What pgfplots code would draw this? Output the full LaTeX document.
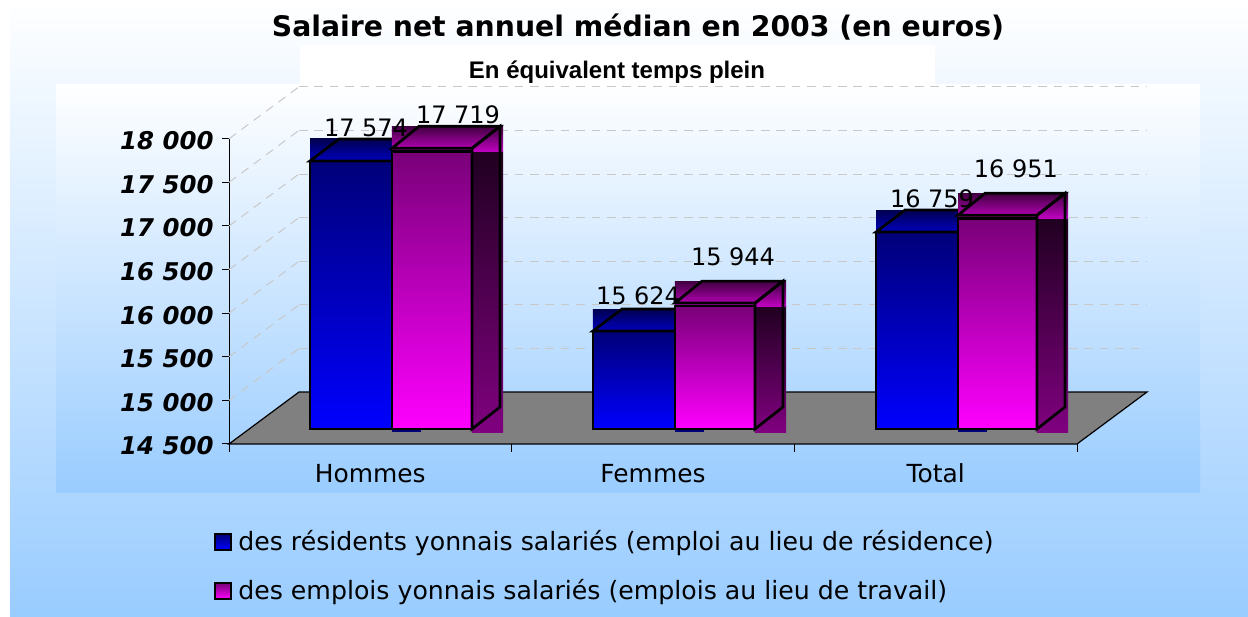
\documentclass[border=0pt]{standalone}
\usepackage{fontspec}
\usepackage{pgfplots}
\pgfplotsset{compat=1.18}
\setmainfont{DejaVu Sans}
\newfontfamily\arialf{Liberation Sans}
\definecolor{bgblue}{RGB}{153,204,255}
\definecolor{fl}{RGB}{128,128,128}
\definecolor{gridc}{RGB}{200,200,200}
\definecolor{bA}{RGB}{0,0,120}
\definecolor{bB}{RGB}{0,0,255}
\definecolor{bT}{RGB}{0,0,80}
\definecolor{bU}{RGB}{0,0,190}
\definecolor{mA}{RGB}{120,0,120}
\definecolor{mB}{RGB}{255,0,255}
\definecolor{mT}{RGB}{64,0,64}
\definecolor{mU}{RGB}{192,0,192}
\definecolor{mS}{RGB}{32,0,32}
\definecolor{mP}{RGB}{128,0,128}
\pgfplotsset{
  barbase/.style={forget plot, mark=none, yshift=15pt, line join=miter},
  gridl/.style={forget plot, mark=none, draw=gridc, line width=1pt, dash pattern=on 8.7pt off 6.7pt},
  vallabel/.style={forget plot, draw=none, mark=none, nodes near coords, point meta=y,
    every node near coord/.append style={anchor=center, yshift=#1, text=black, font=\fontsize{24}{28}\selectfont}},
}
\newcommand{\bluebar}[6]{%
  \addplot[barbase, draw=none, top color=bT, bottom color=bU] coordinates {(#1,#5)(#4,#5)(#4,#6)(#1,#6)} --cycle;
  \addplot[barbase, draw=none, fill=bA] coordinates {(#2,14465)(#4,14465)(#4,14500)(#2,14500)} --cycle;
  \addplot[barbase, draw=black, line width=2.7pt, top color=bA, bottom color=bB] coordinates {(#1,14500)(#2,14500)(#2,#5)(#1,#5)} --cycle;
  \addplot[barbase, draw=black, line width=2.7pt, fill=none] coordinates {(#1,#5)(#2,#5)(#4,#6)(#3,#6)} --cycle;
}
\newcommand{\magbar}[8]{%
  \addplot[barbase, draw=none, top color=mS, bottom color=mP] coordinates {(#2,14465)(#8,14465)(#8,#7)(#2,#7)} --cycle;
  \addplot[barbase, draw=none, top color=mT, bottom color=mU] coordinates {(#1,#7)(#8,#7)(#8,#6)(#1,#6)} --cycle;
  \addplot[barbase, draw=black, line width=2.7pt, top color=mA, bottom color=mB] coordinates {(#1,14500)(#2,14500)(#2,#7)(#1,#7)} --cycle;
  \addplot[barbase, draw=black, line width=2.7pt, fill=none] coordinates {(#2,14500)(#4,14752)(#4,#6)(#2,#5)} --cycle;
  \addplot[barbase, draw=black, line width=2.7pt, fill=none] coordinates {(#1,#5)(#2,#5)(#4,#6)(#3,#6)} --cycle;
}
\newcommand{\gridline}[2]{%
  \addplot[gridl] coordinates {(0,#1)(0.2476,#2)};
  \addplot[gridl] coordinates {(0.2476,#2)(3.2476,#2)};
}
\begin{document}
\begin{tikzpicture}
\useasboundingbox (0pt,0pt) rectangle (1248pt,617pt);
\fill[white] (0pt,0pt) rectangle (1248pt,617pt);
\shade[top color=white, bottom color=bgblue] (10pt,0pt) rectangle (1248pt,617pt);
\shade[top color=white, bottom color=bgblue] (56pt,124pt) rectangle (1200pt,532pt);
\fill[white] (300pt,532pt) rectangle (935pt,572pt);
\node[font=\bfseries\fontsize{28.3}{32}\selectfont, anchor=center] at (638pt,590pt) {Salaire net annuel médian en 2003 (en euros)};
\node[font=\arialf\bfseries\fontsize{24}{28}\selectfont, anchor=center] at (617pt,545pt) {En équivalent temps plein};
\begin{axis}[
  at={(229pt,173pt)}, anchor=south west,
  scale only axis, width=848pt, height=305.2pt,
  clip=false,
  xmin=0, xmax=3, ymin=14500, ymax=18000,
  axis x line*=bottom, axis y line*=left,
  axis line style={black, line width=1pt, -},
  xtick={0.5,1.5,2.5},
  xticklabels={Hommes,Femmes,Total},
  minor xtick={0,1,2,3},
  major x tick style={draw=none},
  minor tick length=8pt,
  xtick pos=bottom,
  ytick={14500,15000,15500,16000,16500,17000,17500,18000},
  ytick pos=left,
  tick style={black, line width=1pt},
  major tick length=7pt,
  tick align=outside,
  /pgf/number format/assume math mode=true,
  /pgf/number format/1000 sep={\ },
  scaled y ticks=false,
  x tick label style={font=\fontsize{24.9}{28}\selectfont, yshift=-9pt, text height=19pt, text depth=0pt},
  y tick label style={font=\bfseries\itshape\fontsize{24.4}{28}\selectfont, xshift=-5pt, yshift=-2pt},
  legend style={at={(-0.0175,-0.275)}, anchor=north west, draw=none, fill=none, inner sep=0pt, row sep=23.5pt,
    font=\fontsize{25.2}{28}\selectfont, cells={anchor=west}, /tikz/every odd column/.append style={column sep=4pt}},
]
% floor
\addplot[forget plot, mark=none, fill=fl, draw=black, line width=1.2pt] coordinates {(0,14500)(3,14500)(3.2476,15096)(0.2476,15096)} --cycle;
% grid
\gridline{15000}{15596}
\gridline{15500}{16096}
\gridline{16000}{16596}
\gridline{16500}{17096}
\gridline{17000}{17596}
\gridline{17500}{18096}
\gridline{18000}{18596}
% bars
\bluebar{0.2866}{0.5766}{0.3893}{0.6793}{17574}{17826}
\magbar{0.5766}{0.8597}{0.6721}{0.9587}{17719}{17971}{17685}{0.9697}
\bluebar{1.2877}{1.5778}{1.3904}{1.6805}{15624}{15876}
\magbar{1.5778}{1.8608}{1.6733}{1.9598}{15944}{16196}{15910}{1.9705}
\bluebar{2.2889}{2.5790}{2.3916}{2.6817}{16759}{17011}
\magbar{2.5790}{2.8585}{2.6745}{2.9575}{16951}{17203}{16917}{2.9682}
% value labels
\addplot[vallabel=48.5pt] coordinates {(0.4847,17574)(0.8101,17719)(2.4870,16759)};
\addplot[vallabel=50pt] coordinates {(1.4469,15624)};
\addplot[vallabel=61.5pt] coordinates {(1.7830,15944)(2.7840,16951)};
% legend
\addlegendimage{legend image code/.code={\draw[black, line width=2pt, top color=bA, bottom color=bB] (0pt,-9pt) rectangle (16pt,7pt);}}
\addlegendentry{des résidents yonnais salariés (emploi au lieu de résidence)}
\addlegendimage{legend image code/.code={\draw[black, line width=2pt, top color=mA, bottom color=mB] (0pt,-9pt) rectangle (16pt,7pt);}}
\addlegendentry{des emplois yonnais salariés (emplois au lieu de travail)}
\end{axis}
\end{tikzpicture}
\end{document}
